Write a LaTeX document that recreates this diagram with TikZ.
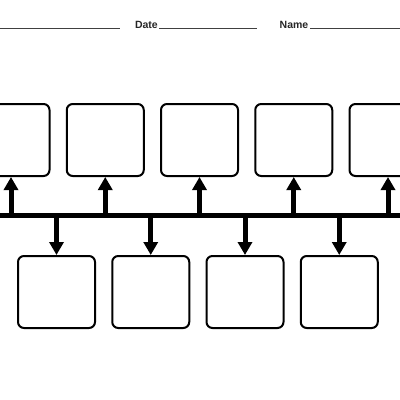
\documentclass[tikz,border=0pt]{standalone}
\usepackage{fontspec}
\setmainfont{Liberation Sans}
\usetikzlibrary{arrows.meta}
\tikzset{
  card/.style={draw,line width=2pt,rounded corners=6pt,minimum width=77pt,minimum height=72pt,inner sep=0pt},
  spoke/.style={line width=5pt,-{Triangle[length=13pt,width=14pt]}},
  blank/.style={draw=black!75,line width=1.4pt},
  tag/.style={font=\fontsize{10.5}{12}\selectfont\bfseries,text=black!85,inner sep=0pt}
}
\begin{document}
\begin{tikzpicture}[x=1pt,y=-1pt]
\useasboundingbox (0,0) rectangle (400,400);
\def \s{94.25}
% header
\node[tag,anchor=base east] (date) at (158,28) {Date};
\node[tag,anchor=base east] (name) at (308.5,28) {Name};
\draw[blank] (0,28.5)--(120,28.5);
\draw[blank] (159,28.5)--(257,28.5);
\draw[blank] (310,28.5)--(400,28.5);

% timeline
\coordinate (start) at (0,215.5);
\coordinate (end) at (400,215.5);
\draw[line width=5.5pt] (start)--(end);

\foreach \i in {0,...,4}{
\node[card] (up\i) at (11+\i*\s,140) {};
\coordinate (a\i) at (11+\i*\s,215.5);
\draw[spoke] (a\i)--(up\i.south);
}
\foreach \i in {0,...,3}{
\node[card] (dn\i) at (56.5+\i*\s,292) {};
\coordinate (b\i) at (56.5+\i*\s,215.5);
\draw[spoke] (b\i)--(dn\i.north);
}

\end{tikzpicture}
\end{document}
